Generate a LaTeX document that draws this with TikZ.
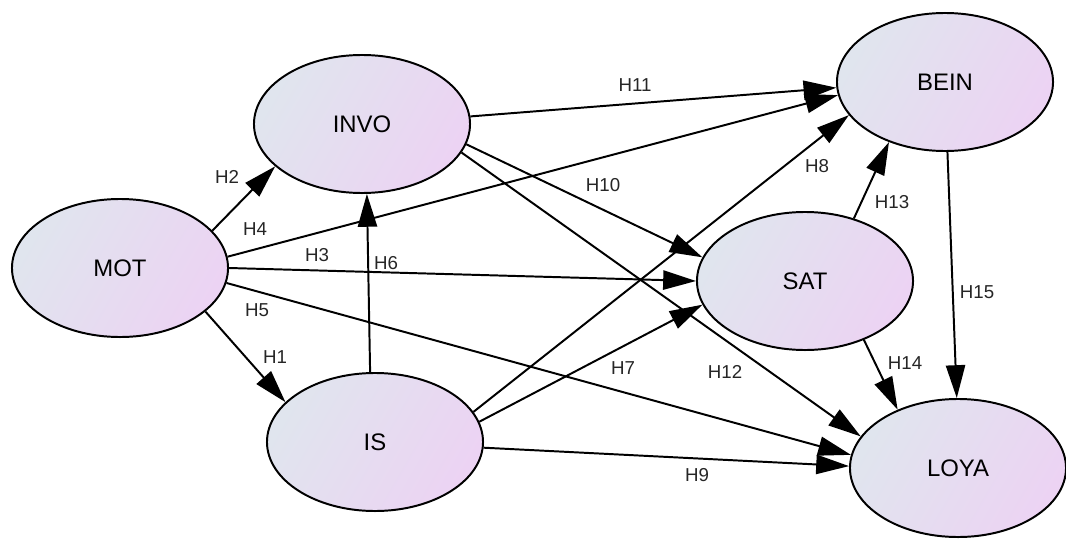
\documentclass[tikz,border=0pt]{standalone}
\usepackage{fontspec}
\setmainfont{Liberation Sans}
\usetikzlibrary{shapes.geometric, arrows.meta}

\definecolor{shadeleft}{HTML}{E0E5EE}
\definecolor{shaderight}{HTML}{ECD3F3}

\begin{document}
\begin{tikzpicture}[
			x=0.025cm, y=-0.025cm,
			construct/.style={draw, ellipse, line width=1.4pt, minimum width=5.4cm, minimum height=3.45cm,
				left color=shadeleft, right color=shaderight, shading angle=60, font=\fontsize{17}{20}\selectfont},
			link/.style={line width=1.4pt, -{Triangle[length=0.82cm, width=0.48cm]}},
			hlbl/.style={font=\fontsize{13.3}{16}\selectfont, text=black!85, inner sep=1pt}
		]
		\useasboundingbox (0,0) rectangle (1066,539);

		\node[construct] (mot) at (120,268) {MOT};
		\node[construct] (invo) at (362,124) {INVO};
		\node[construct] (is) at (375,442) {IS};
		\node[construct] (bein) at (945,82) {BEIN};
		\node[construct] (sat) at (805,281) {SAT};
		\node[construct] (loya) at (958,468) {LOYA};

		% paths and their labels
		\foreach \a/\b/\t/\x/\y in {
				mot.-27/is.156/H1/275/357,
				mot.22/invo.206/H2/227/177,
				mot.0/sat.180/H3/317/255,
				mot.6/bein.187/H4/255/229,
				mot.-8/loya.173/H5/257/310,
				is.94/invo.-86/H6/386/263,
				is.11/sat.193/H7/623/368,
				is.17/bein.199/H8/817/166,
				is.-3/loya.179/H9/697/475,
				invo.-11/sat.167/H10/603/185,
				invo.4/bein.183/H11/635/85,
				invo.-16/loya.162/H12/725/372,
				sat.52/bein.227/H13/892/202,
				sat.-45/loya.136/H14/905/363,
				bein.-88/loya.91/H15/977/292} {
			\draw[link] (\a) -- (\b);
			\node[hlbl] (l\t) at (\x,\y) {\t};
		}
	\end{tikzpicture}
\end{document}
